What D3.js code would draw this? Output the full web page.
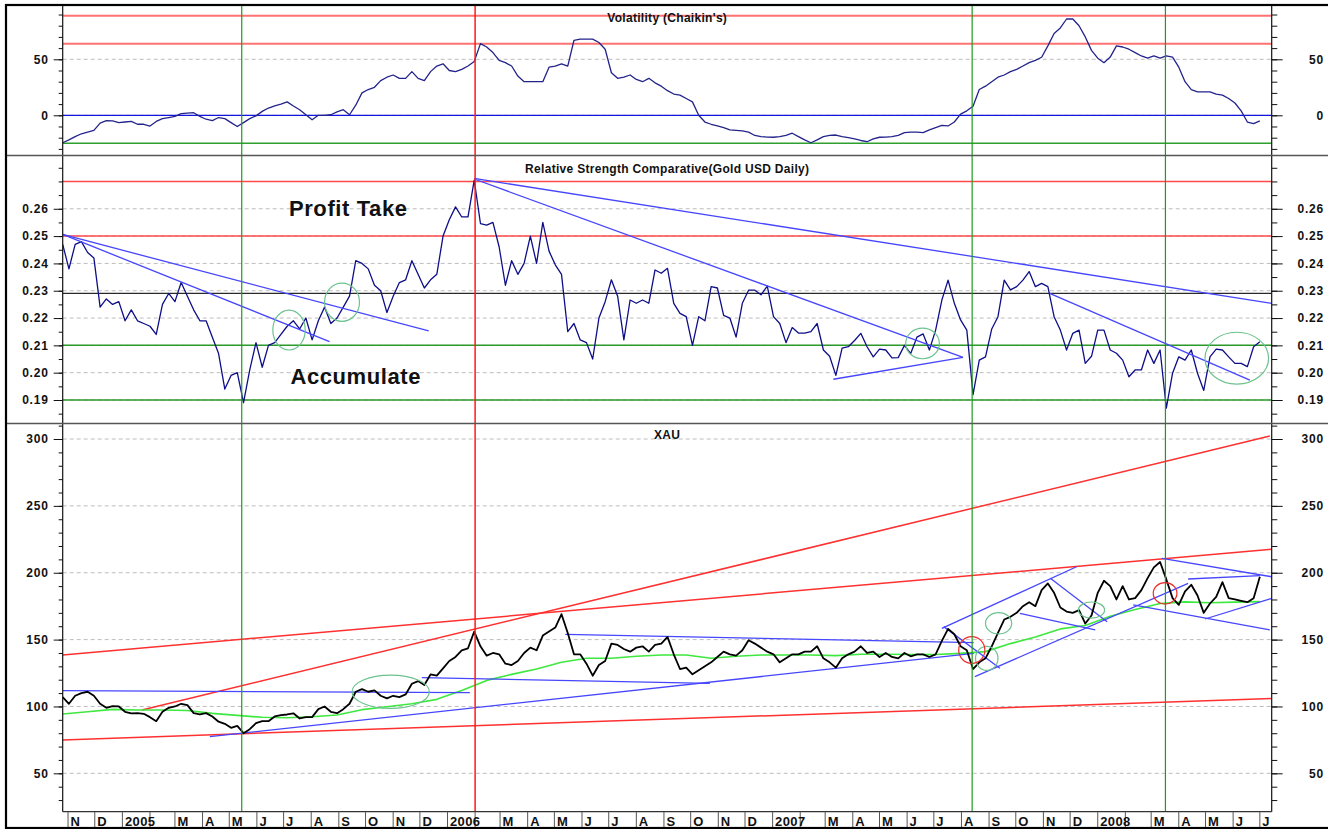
<!DOCTYPE html>
<html>
<head>
<meta charset="utf-8">
<script src="https://cdn.jsdelivr.net/npm/d3@7"></script>
<style>
  body { margin: 0; background: #fff; }
  text { font-family: "Liberation Sans", Arial, sans-serif; font-weight: bold; fill: #111; }
</style>
</head>
<body>
<svg id="chart" width="1328" height="829"></svg>
<script>
// ---- data (weekly samples from 2004-10-26) ----
const startDay = '2004-10-26';

const volatility = [
  -24.5,-22,-19,-16.5,-15,-13.5,-7,-4.8,-5,-6.5,
  -6,-5.5,-8,-8,-9.6,-5.5,-3,-2,-1,1.5,
  2,2.3,-1,-3.5,-4.8,-2,-3,-6.5,-10,-6.5,
  -3,-0.5,3.5,6.5,8.5,10,12,8.3,5,0.5,
  -4,0,0,0.5,3,5,0.5,9,20,23,
  25,31,34,36,33,33,39,33,31,39,
  44,46,40,39,41,44,48,64,61,56,
  49,47,44,35,30,30,30,30,43,44,
  46,44,67,68,68,68,65,59,38,33,
  34,36,32,30,33,29,26,22,19,18,
  15,12,0,-6,-8,-9.5,-11,-13,-13.5,-14,
  -15,-18,-19,-19.5,-19.6,-19,-18,-16,-19,-22,
  -24.5,-22,-19,-18,-17.6,-19,-20,-21,-22.5,-23.6,
  -21,-19.6,-19.5,-19,-18,-15.5,-15,-15,-15.5,-13,
  -11,-9,-9.5,-6,1,4,8,23,26,30,
  34,36,39,41,44,47,49,51.8,62,73,
  78,86,86,80,70,58,51,47,52,62,
  61,59,56,53,51,53,51,53,52,43,
  30,23,21,21,21,19,18,15,11,4,
  -6,-7.5,-5
];

const rsc = [
  0.247,0.238,0.247,0.248,0.244,0.242,0.224,0.227,0.225,0.226,
  0.219,0.223,0.219,0.218,0.217,0.214,0.225,0.229,0.226,0.233,
  0.228,0.223,0.219,0.219,0.213,0.207,0.194,0.199,0.2,0.189,
  0.201,0.211,0.202,0.21,0.211,0.214,0.217,0.219,0.216,0.22,
  0.212,0.219,0.224,0.218,0.22,0.224,0.228,0.241,0.24,0.238,
  0.232,0.23,0.222,0.228,0.233,0.234,0.241,0.236,0.231,0.234,
  0.236,0.25,0.256,0.2607,0.257,0.257,0.2705,0.2546,0.254,0.255,
  0.246,0.232,0.241,0.236,0.24,0.25,0.24,0.255,0.2445,0.2395,
  0.236,0.215,0.218,0.212,0.211,0.205,0.22,0.226,0.234,0.228,
  0.212,0.2266,0.2254,0.2266,0.2254,0.2376,0.2364,0.2382,0.2254,0.2217,
  0.2205,0.21,0.2205,0.219,0.2315,0.231,0.221,0.22,0.213,0.2254,
  0.2302,0.2302,0.2285,0.2317,0.2205,0.218,0.211,0.2165,0.2145,0.2145,
  0.215,0.218,0.2083,0.206,0.199,0.209,0.2095,0.2118,0.2144,0.2095,
  0.2058,0.2086,0.2083,0.2054,0.2055,0.21,0.207,0.213,0.2142,0.2083,
  0.2156,0.2266,0.2339,0.2254,0.2193,0.2156,0.192,0.2046,0.2058,0.216,
  0.2205,0.2339,0.2303,0.2315,0.2339,0.237,0.2315,0.2327,0.2315,0.2205,
  0.2156,0.2083,0.2144,0.2156,0.2034,0.206,0.2156,0.2156,0.2083,0.2071,
  0.2046,0.1985,0.201,0.201,0.2083,0.2034,0.2083,0.187,0.1998,0.2058,
  0.2046,0.2083,0.1998,0.1935,0.2058,0.2086,0.2083,0.2058,0.2034,0.2034,
  0.2022,0.2095,0.2113
];

const xau = [
  107,102,108,110,111,108,102,99,100.3,100,
  96,94.9,95,94.5,92,89,96,99,100,102,
  101,95,94,95,92.5,88.6,87,84,85.5,80,
  83,87.5,89,89,92.5,93.5,94,94.9,91,92,
  92,98,100,96,95,98,102,111,113,111,
  112,108,106,108,107,109,117,119,116,124,
  123,128.5,134,137,142,143.5,156,145,138,140,
  139,132,131,134,140,144,142,153,156,159,
  169,155,139,139,132,123,131,134,147,146,
  143,141,144,145,141,146,147,152,139,128,
  129,124,127,130,133,137,141,139,138,142,
  149.5,147,144,141,139,133,136,139,139,141,
  141,145,136,133,129,136,139,141,145,140,
  141,137,140,137,136,140,137.5,139,139,137,
  139,149,158,154,145,142,128,133,136,145,
  155,165,167,170,175,178,175,187,192,185,
  174,171,170,172,162,168,185,194,190,180,
  190,180,181,187,196,204,208,195,181,176,
  186,191,183,170,177,182,193,181,180,179,
  178,181,197
];

// moving average, one value every 4 weeks
const xauAverage = [
  94.4,96,97.8,97.4,97.4,97,94.8,93.3,91.9,91.6,
  92.3,93.6,97.6,99.8,102,105.3,112,119.5,124,128,
  133,136,136,137.5,138.5,138.5,136,137.5,138.5,138.5,
  138.5,138,139,139,138.8,138.8,139.7,141,147,152,
  158,160.5,167.5,172.5,177,178.2,177.6,178,178.4
];

// horizontal levels
const volRedLevels = [89, 64];
const volZeroLevel = 0;
const volGreenLevel = -25;
const rscRedLevels = [0.27, 0.25];
const rscBlackLevel = 0.229;
const rscGreenLevels = [0.21, 0.19];

// vertical markers
const greenMarkers = ['2005-05-15', '2007-08-13', '2008-03-17'];
const redMarkers = ['2006-02-01'];

// trendlines: [[week, value], [week, value]]
const rscTrends = [
  [[0, 0.2506], [58.7, 0.2153]],
  [[0, 0.2506], [42.8, 0.2114]],
  [[66.0, 0.2711], [193.9, 0.2254]],
  [[66.0, 0.2709], [144.4, 0.2056]],
  [[123.6, 0.1976], [144.4, 0.2056]],
  [[158.3, 0.2290], [190.4, 0.1973]]
];
const xauRedTrends = [
  [[0, 138.5], [193.9, 217.5]],
  [[0, 75], [193.9, 106]],
  [[12.7, 97.4], [193.6, 302.2]]
];
const xauBlueTrends = [
  [[0, 111.8], [65.3, 110.3]],
  [[57.6, 121.5], [103.8, 117.2]],
  [[23.6, 77.4], [146.1, 139.7]],
  [[80.6, 153.9], [146.1, 147.7]],
  [[146.3, 122.3], [180.5, 192.1]],
  [[141.0, 158.4], [162.6, 204.5]],
  [[158.4, 195.8], [167.5, 163.4]],
  [[153.5, 169.6], [165.6, 157.2]],
  [[141.3, 159.7], [150.3, 128.5]],
  [[176.3, 210.8], [193.9, 197]],
  [[171.7, 175.9], [193.6, 157.2]],
  [[183.2, 165.4], [193.9, 180.9]],
  [[180.5, 195.3], [192, 197.8]]
];

// rings: [week, value, week radius, value radius]
const rscRings = [
  [36.3, 0.2156, 2.6, 0.0073],
  [44.8, 0.2258, 2.8, 0.007],
  [137.9, 0.2107, 2.7, 0.0056],
  [188.3, 0.2053, 5.1, 0.0095]
];
const xauGreenRings = [
  [148.2, 136, 1.8, 9],
  [150.1, 162.2, 2.1, 8],
  [165.0, 172.1, 2.1, 6],
  [52.6, 111, 6.2, 12.5]
];
const xauRedRings = [
  [145.8, 142.2, 2.1, 10],
  [176.8, 184.6, 1.9, 8]
];

const rscNotes = [
  ['Profit Take', 45.8, 0.26],
  ['Accumulate', 47.0, 0.1985]
];

// ---- layout ----
const W = 1328, H = 829;
const plotLeft = 62.7, plotRight = 1271.7, plotBottom = 811.7;
const svg = d3.select('#chart');
const parse = d3.timeParse('%Y-%m-%d');
const start = parse(startDay);
const weekDate = w => new Date(start.getTime() + w * 7 * 864e5);

const x = d3.scaleTime()
  .domain([weekDate(0), weekDate(193.9)])
  .range([plotLeft, plotRight]);

const panels = [
  { id: 'vol', top: 5, bottom: 155.5, domain: [-35.9, 98.5],
    major: [0, 50], minor: d3.range(-30, 91, 10), format: d3.format('d'),
    title: "Volatility (Chaikin's)", titleY: 21.5 },
  { id: 'rsc', top: 155.5, bottom: 423.5, domain: [0.1814, 0.2795],
    major: d3.range(19, 27).map(d => d / 100), minor: d3.range(37, 56).map(d => d / 200),
    format: d3.format('.2f'),
    title: 'Relative Strength Comparative(Gold USD Daily)', titleY: 172.5 },
  { id: 'xau', top: 423.5, bottom: plotBottom, domain: [21.3, 311.6],
    major: d3.range(50, 301, 50), minor: d3.range(30, 311, 10), format: d3.format('d'),
    title: 'XAU', titleY: 439 }
];

panels.forEach(p => {
  p.y = d3.scaleLinear().domain(p.domain).range([p.bottom, p.top]);
  svg.append('clipPath').attr('id', 'clip-' + p.id)
    .append('rect')
    .attr('x', plotLeft).attr('y', p.top)
    .attr('width', plotRight - plotLeft).attr('height', p.bottom - p.top);
  p.g = svg.append('g').attr('clip-path', `url(#clip-${p.id})`);
});

const [volP, rscP, xauP] = panels;

// dashed grid
panels.forEach(p => {
  p.g.selectAll('line.grid')
    .data(p.major)
    .enter().append('line')
    .attr('x1', plotLeft).attr('x2', plotRight)
    .attr('y1', d => p.y(d)).attr('y2', d => p.y(d))
    .attr('stroke', '#bdbdbd').attr('stroke-dasharray', '4,3');
});

function hLines(p, values, color, width) {
  p.g.append('g').selectAll('line')
    .data(values)
    .enter().append('line')
    .attr('x1', plotLeft).attr('x2', plotRight)
    .attr('y1', d => p.y(d)).attr('y2', d => p.y(d))
    .attr('stroke', color).attr('stroke-width', width);
}

hLines(volP, volRedLevels, '#ff7272', 2);
hLines(volP, [volZeroLevel], '#1414e0', 1.2);
hLines(volP, [volGreenLevel], '#2f9f2f', 1.5);
hLines(rscP, rscRedLevels, '#ff4a4a', 1.5);
hLines(rscP, [rscBlackLevel], '#2a2a2a', 1.2);
hLines(rscP, rscGreenLevels, '#2a9a2a', 1.5);

// vertical markers across all panels
function vLines(dates, color, width) {
  svg.append('g').selectAll('line')
    .data(dates)
    .enter().append('line')
    .attr('x1', d => x(parse(d))).attr('x2', d => x(parse(d)))
    .attr('y1', 5).attr('y2', plotBottom)
    .attr('stroke', color).attr('stroke-width', width);
}
vLines(greenMarkers, '#1f9a1f', 1.2);
vLines(redMarkers, '#ff1a1a', 1.5);

// series
function series(p, values, color, width, step) {
  p.g.append('path')
    .datum(values)
    .attr('fill', 'none')
    .attr('stroke', color)
    .attr('stroke-width', width)
    .attr('stroke-linejoin', 'round')
    .attr('d', d3.line()
      .x((d, i) => x(weekDate(i * step)))
      .y(d => p.y(d)));
}

series(volP, volatility, '#23238c', 1.3, 1);
series(rscP, rsc, '#0e0e88', 1.3, 1);

function trends(p, list, color, width) {
  p.g.append('g').selectAll('line')
    .data(list)
    .enter().append('line')
    .attr('x1', d => x(weekDate(d[0][0]))).attr('y1', d => p.y(d[0][1]))
    .attr('x2', d => x(weekDate(d[1][0]))).attr('y2', d => p.y(d[1][1]))
    .attr('stroke', color).attr('stroke-width', width);
}

function rings(p, list, color) {
  p.g.append('g').selectAll('ellipse')
    .data(list)
    .enter().append('ellipse')
    .attr('cx', d => x(weekDate(d[0])))
    .attr('cy', d => p.y(d[1]))
    .attr('rx', d => x(weekDate(d[0] + d[2])) - x(weekDate(d[0])))
    .attr('ry', d => p.y(d[1]) - p.y(d[1] + d[3]))
    .attr('fill', 'none').attr('stroke', color).attr('stroke-width', 1.2);
}

trends(rscP, rscTrends, '#4646ff', 1.3);
rings(rscP, rscRings, '#6cc28f');

rscP.g.append('g').selectAll('text')
  .data(rscNotes)
  .enter().append('text')
  .attr('x', d => x(weekDate(d[1])))
  .attr('y', d => rscP.y(d[2]))
  .attr('text-anchor', 'middle')
  .attr('dominant-baseline', 'central')
  .style('font-size', '22px')
  .style('letter-spacing', '0.6px')
  .text(d => d[0]);

trends(xauP, xauRedTrends, '#ff3030', 1.5);
series(xauP, xauAverage, '#3ee83e', 1.6, 4);
trends(xauP, xauBlueTrends, '#4646ff', 1.3);
series(xauP, xau, '#000', 1.8, 1);
rings(xauP, xauGreenRings, '#6cc28f');
rings(xauP, xauRedRings, '#ee2a2a');

// titles
panels.forEach(p => {
  svg.append('text')
    .attr('x', (plotLeft + plotRight) / 2)
    .attr('y', p.titleY)
    .attr('text-anchor', 'middle')
    .style('font-size', '12px')
    .style('letter-spacing', '0.3px')
    .text(p.title);
});

// y axes
panels.forEach(p => {
  const minorL = svg.append('g').attr('transform', `translate(${plotLeft},0)`)
    .call(d3.axisLeft(p.y).tickValues(p.minor).tickSize(4).tickFormat(''));
  const majorL = svg.append('g').attr('transform', `translate(${plotLeft},0)`)
    .call(d3.axisLeft(p.y).tickValues(p.major).tickSize(9).tickPadding(5).tickFormat(p.format));
  const minorR = svg.append('g').attr('transform', `translate(${plotRight},0)`)
    .call(d3.axisRight(p.y).tickValues(p.minor).tickSize(5.6).tickFormat(''));
  const majorR = svg.append('g').attr('transform', `translate(${plotRight},0)`)
    .call(d3.axisRight(p.y).tickValues(p.major).tickSize(11).tickFormat(p.format));
  majorR.selectAll('text').attr('text-anchor', 'end').attr('x', 1324 - plotRight);
  [minorL, majorL, minorR, majorR].forEach(a => {
    a.select('.domain').remove();
    a.selectAll('line').attr('stroke', '#111');
    a.selectAll('text')
      .style('font-size', '12px')
      .style('letter-spacing', '0.8px')
      .style('font-family', '"Liberation Sans", Arial, sans-serif')
      .style('font-weight', 'bold')
      .attr('fill', '#111');
  });
});

// axis lines
svg.append('line').attr('x1', plotLeft).attr('x2', plotLeft).attr('y1', 5).attr('y2', plotBottom)
  .attr('stroke', '#111').attr('stroke-width', 1.2);
svg.append('line').attr('x1', plotRight).attr('x2', plotRight).attr('y1', 5).attr('y2', plotBottom)
  .attr('stroke', '#111').attr('stroke-width', 1.2);
svg.append('line').attr('x1', plotLeft).attr('x2', plotRight).attr('y1', plotBottom).attr('y2', plotBottom)
  .attr('stroke', '#333').attr('stroke-width', 1.2);

// panel separators
[155.5, 423.5].forEach(yy => {
  svg.append('line').attr('x1', 6).attr('x2', W).attr('y1', yy).attr('y2', yy)
    .attr('stroke', '#555').attr('stroke-width', 1.6);
});

// month axis
const months = d3.timeMonth.range(d3.timeMonth.ceil(weekDate(0)), weekDate(193.9));
const monthLetter = d3.timeFormat('%b');
const xg = svg.append('g');
xg.selectAll('line')
  .data(months)
  .enter().append('line')
  .attr('x1', d => x(d)).attr('x2', d => x(d))
  .attr('y1', plotBottom).attr('y2', H)
  .attr('stroke', '#555');
xg.selectAll('text')
  .data(months)
  .enter().append('text')
  .attr('x', d => x(d) + 2.5)
  .attr('y', 826)
  .style('font-size', '13px')
  .style('letter-spacing', '0.4px')
  .text(d => d.getMonth() === 0 ? d.getFullYear() : d.getMonth() === 1 ? '' : monthLetter(d)[0]);

// outer frame
svg.append('rect')
  .attr('x', 6).attr('y', 5).attr('width', W + 10).attr('height', H - 6)
  .attr('fill', 'none').attr('stroke', '#000').attr('stroke-width', 2.2);
</script>
</body>
</html>
